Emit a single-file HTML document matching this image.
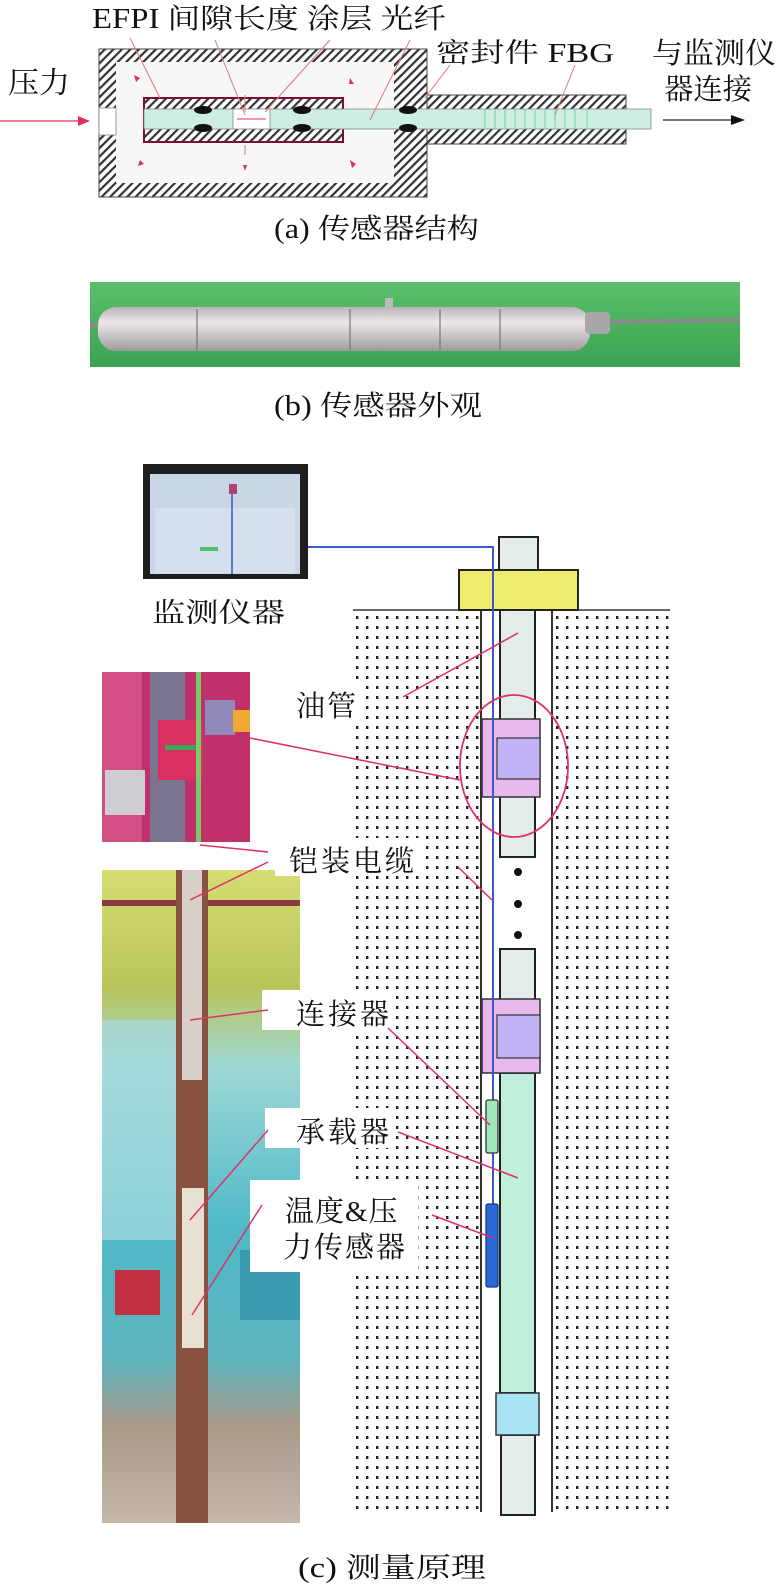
<!DOCTYPE html>
<html><head><meta charset="utf-8"><style>
html,body{margin:0;padding:0;background:#fff;}
svg{display:block;}
text{font-family:"Liberation Serif","Noto Serif CJK SC","Noto Sans CJK SC",serif;fill:#111;}
</style></head><body>
<svg width="777" height="1588" viewBox="0 0 777 1588" xmlns="http://www.w3.org/2000/svg">
<defs>
<pattern id="hatch" width="6" height="6" patternUnits="userSpaceOnUse" patternTransform="rotate(45)">
<rect width="6" height="6" fill="#fff"/><rect width="2.2" height="6" fill="#333"/></pattern>
<pattern id="dots" x="365" y="614" width="10" height="10" patternUnits="userSpaceOnUse">
<rect width="10" height="10" fill="#fff"/><rect x="1" y="2" width="2.4" height="3" fill="#222"/></pattern>
<linearGradient id="cyl" x1="0" y1="0" x2="0" y2="1">
<stop offset="0" stop-color="#b9b4b8"/><stop offset="0.35" stop-color="#ece8ea"/><stop offset="1" stop-color="#9f9a9e"/></linearGradient>
<linearGradient id="grn" x1="0" y1="0" x2="0" y2="1">
<stop offset="0" stop-color="#5cbf6b"/><stop offset="1" stop-color="#3aa352"/></linearGradient>
<linearGradient id="big" x1="0" y1="0" x2="0" y2="1">
<stop offset="0" stop-color="#d6dd72"/><stop offset="0.18" stop-color="#b9c55a"/><stop offset="0.3" stop-color="#9fd8d6"/><stop offset="0.55" stop-color="#4fb9c8"/><stop offset="0.75" stop-color="#5fb4bd"/><stop offset="0.85" stop-color="#a99a8a"/><stop offset="1" stop-color="#c5b7aa"/></linearGradient>
</defs>

<!-- (a) sensor structure -->
<rect x="99" y="49" width="328" height="148" fill="url(#hatch)" stroke="#444" stroke-width="1"/>
<rect x="116" y="62" width="278" height="121" fill="#f7f7f7"/>
<rect x="99" y="108" width="17" height="27" fill="#fff" stroke="#888" stroke-width="0.8"/>
<rect x="427" y="95" width="199" height="49" fill="url(#hatch)" stroke="#444" stroke-width="1"/>
<rect x="144" y="98" width="199" height="44" fill="url(#hatch)" stroke="#7a1030" stroke-width="2"/>
<rect x="144" y="109" width="507" height="20" fill="#cdeee0" stroke="#888" stroke-width="0.8"/>
<rect x="233" y="109" width="37" height="20" fill="#fff" stroke="#888" stroke-width="0.8"/>
<g fill="#111">
<ellipse cx="203" cy="110" rx="9" ry="4"/><ellipse cx="203" cy="128" rx="9" ry="4"/>
<ellipse cx="302" cy="110" rx="9" ry="4"/><ellipse cx="302" cy="128" rx="9" ry="4"/>
<ellipse cx="408" cy="110" rx="9" ry="4"/><ellipse cx="408" cy="128" rx="9" ry="4"/>
</g>
<g stroke="#7fd8a8" stroke-width="1.2">
<line x1="485" y1="110" x2="485" y2="128"/><line x1="495" y1="110" x2="495" y2="128"/><line x1="505" y1="110" x2="505" y2="128"/><line x1="515" y1="110" x2="515" y2="128"/><line x1="525" y1="110" x2="525" y2="128"/><line x1="535" y1="110" x2="535" y2="128"/><line x1="545" y1="110" x2="545" y2="128"/><line x1="555" y1="110" x2="555" y2="128"/><line x1="565" y1="110" x2="565" y2="128"/><line x1="575" y1="110" x2="575" y2="128"/><line x1="587" y1="110" x2="587" y2="128"/>
</g>
<line x1="0" y1="121" x2="84" y2="121" stroke="#e0305a" stroke-width="1.3"/>
<polygon points="90,121 78,116 78,126" fill="#e0305a"/>
<line x1="663" y1="120" x2="733" y2="120" stroke="#222" stroke-width="1.3"/>
<polygon points="745,120 731,115 731,125" fill="#111"/>
<g stroke="#d77" stroke-width="1">
<line x1="130" y1="38" x2="160" y2="98"/><line x1="215" y1="40" x2="245" y2="115"/>
<line x1="330" y1="40" x2="265" y2="112"/><line x1="410" y1="40" x2="370" y2="120"/>
<line x1="450" y1="65" x2="425" y2="98"/><line x1="575" y1="65" x2="555" y2="115"/>
<line x1="245" y1="112" x2="245" y2="95"/><line x1="245" y1="155" x2="245" y2="145"/>
</g>
<g fill="#e0305a">
<polygon points="134,75 140,78 136,82"/><polygon points="350,78 354,84 349,84"/>
<polygon points="140,160 144,164 138,166"/><polygon points="350,160 356,164 352,168"/>
<polygon points="243,165 247,165 245,171"/><line x1="237" y1="119" x2="266" y2="119" stroke="#e0305a"/>
</g>
<text x="92" y="28" font-size="28" textLength="354" lengthAdjust="spacingAndGlyphs">EFPI 间隙长度 涂层 光纤</text>
<text x="8" y="93" font-size="30" textLength="62" lengthAdjust="spacingAndGlyphs">压力</text>
<text x="436" y="62" font-size="27" textLength="178" lengthAdjust="spacingAndGlyphs">密封件 FBG</text>
<text x="652" y="63" font-size="29" textLength="124" lengthAdjust="spacingAndGlyphs">与监测仪</text>
<text x="664" y="99" font-size="29" textLength="88" lengthAdjust="spacingAndGlyphs">器连接</text>
<text x="274" y="238" font-size="28" textLength="205" lengthAdjust="spacingAndGlyphs">(a) 传感器结构</text>

<!-- (b) photo -->
<rect x="90" y="282" width="650" height="85" fill="url(#grn)"/>
<line x1="590" y1="322" x2="740" y2="320" stroke="#8a8a88" stroke-width="4"/>
<line x1="90" y1="325" x2="100" y2="325" stroke="#8a8a88" stroke-width="5"/>
<rect x="98" y="307" width="492" height="44" rx="18" fill="url(#cyl)"/>
<rect x="585" y="312" width="25" height="22" rx="4" fill="#a8a6a8"/>
<rect x="385" y="298" width="8" height="10" fill="#bbb"/>
<g stroke="#777" stroke-width="1.2">
<line x1="197" y1="309" x2="197" y2="350"/><line x1="350" y1="309" x2="350" y2="350"/><line x1="440" y1="309" x2="440" y2="350"/><line x1="500" y1="309" x2="500" y2="350"/></g>
<text x="274" y="415" font-size="28" textLength="208" lengthAdjust="spacingAndGlyphs">(b) 传感器外观</text>

<!-- (c) -->
<rect x="143" y="464" width="165" height="115" fill="#1e1e1e"/>
<rect x="150" y="474" width="150" height="100" fill="#c8d6e6"/>
<rect x="155" y="508" width="140" height="65" fill="#d4e0ee"/>
<line x1="232" y1="485" x2="232" y2="574" stroke="#3a5ab8" stroke-width="1.5"/>
<rect x="229" y="484" width="8" height="10" fill="#b04070"/>
<rect x="200" y="547" width="18" height="4" fill="#4ac070"/>
<text x="152" y="622" font-size="27" textLength="133" lengthAdjust="spacingAndGlyphs">监测仪器</text>

<rect x="354" y="612" width="127" height="900" fill="url(#dots)"/>
<rect x="551" y="612" width="119" height="900" fill="url(#dots)"/>
<line x1="353" y1="610" x2="670" y2="610" stroke="#333" stroke-width="1.5"/>
<line x1="481" y1="610" x2="481" y2="1512" stroke="#333" stroke-width="2"/>
<line x1="552" y1="610" x2="552" y2="1512" stroke="#333" stroke-width="2"/>
<rect x="482" y="612" width="69" height="900" fill="#fff"/>

<rect x="499" y="537" width="39" height="33" fill="#e4ecec" stroke="#222" stroke-width="2"/>
<rect x="459" y="570" width="119" height="40" fill="#f0ec70" stroke="#222" stroke-width="2"/>
<rect x="500" y="610" width="35" height="247" fill="#e4ecec" stroke="#222" stroke-width="2"/>
<circle cx="518" cy="872" r="4" fill="#111"/><circle cx="518" cy="904" r="4" fill="#111"/><circle cx="518" cy="935" r="4" fill="#111"/>
<rect x="500" y="949" width="35" height="60" fill="#e4ecec" stroke="#222" stroke-width="2"/>
<rect x="500" y="1073" width="35" height="320" fill="#c0f0dc" stroke="#222" stroke-width="2"/>
<rect x="501" y="1435" width="34" height="80" fill="#e4ecec" stroke="#222" stroke-width="2"/>
<rect x="496" y="1393" width="43" height="42" fill="#a8e4f4" stroke="#333" stroke-width="1.5"/>

<rect x="482" y="719" width="58" height="78" fill="#e8b8ee" stroke="#333" stroke-width="1.5"/>
<rect x="497" y="738" width="43" height="41" fill="#c0b2f4" stroke="#333" stroke-width="1.2"/>
<rect x="482" y="999" width="58" height="74" fill="#e8b8ee" stroke="#333" stroke-width="1.5"/>
<rect x="497" y="1015" width="43" height="43" fill="#c0b2f4" stroke="#333" stroke-width="1.2"/>

<polyline points="308,547 493,547 493,1100" fill="none" stroke="#3a5ac8" stroke-width="2"/>
<line x1="493" y1="1153" x2="493" y2="1204" stroke="#3a5ac8" stroke-width="2"/>
<rect x="486" y="1100" width="12" height="53" rx="2" fill="#9ee8b8" stroke="#333" stroke-width="1.3"/>
<rect x="486" y="1204" width="12" height="83" rx="2" fill="#2a6ad8" stroke="#1a3a80" stroke-width="1.3"/>

<ellipse cx="514" cy="766" rx="54" ry="71" fill="none" stroke="#e0306a" stroke-width="1.8"/>

<!-- photos -->
<rect x="102" y="672" width="148" height="170" fill="#c0306a"/>
<rect x="102" y="672" width="40" height="170" fill="#d45084"/>
<rect x="150" y="672" width="35" height="170" fill="#7a7490"/>
<rect x="158" y="720" width="45" height="60" fill="#d83060"/>
<rect x="165" y="745" width="35" height="5" fill="#3aa858"/>
<rect x="196" y="672" width="5" height="170" fill="#7acc68"/>
<rect x="105" y="770" width="40" height="45" fill="#d0ccd4"/>
<rect x="205" y="700" width="30" height="35" fill="#9088b8"/>
<rect x="233" y="710" width="17" height="22" fill="#f0a830"/>

<rect x="102" y="870" width="198" height="653" fill="url(#big)"/>
<rect x="102" y="1020" width="95" height="220" fill="#a8dce0" opacity="0.7"/>
<rect x="102" y="900" width="198" height="6" fill="#8a3a40"/>
<rect x="176" y="870" width="32" height="653" fill="#8a5040"/>
<rect x="182" y="870" width="20" height="210" fill="#d8d0c8"/>
<rect x="182" y="1188" width="22" height="160" fill="#e8e0d0"/>
<rect x="240" y="1250" width="60" height="70" fill="#3a9ab0"/>
<rect x="115" y="1270" width="45" height="45" fill="#c03040"/>

<!-- label boxes -->
<rect x="285" y="680" width="78" height="42" fill="#fff"/>
<rect x="275" y="838" width="150" height="38" fill="#fff"/>
<rect x="262" y="990" width="130" height="40" fill="#fff"/>
<rect x="265" y="1108" width="130" height="40" fill="#fff"/>
<rect x="250" y="1180" width="168" height="92" fill="#fff"/>

<g stroke="#e0306a" stroke-width="1.5">
<line x1="403" y1="697" x2="518" y2="633"/>
<line x1="250" y1="738" x2="460" y2="780"/>
<line x1="458" y1="867" x2="492" y2="900"/>
<line x1="268" y1="852" x2="200" y2="845"/>
<line x1="268" y1="862" x2="190" y2="900"/>
<line x1="268" y1="1010" x2="190" y2="1020"/>
<line x1="388" y1="1028" x2="490" y2="1125"/>
<line x1="268" y1="1130" x2="190" y2="1220"/>
<line x1="398" y1="1132" x2="518" y2="1178"/>
<line x1="262" y1="1205" x2="192" y2="1315"/>
<line x1="432" y1="1215" x2="493" y2="1238"/>
</g>

<text x="296" y="716" font-size="29" letter-spacing="2">油管</text>
<text x="289" y="871" font-size="29" letter-spacing="3">铠装电缆</text>
<text x="296" y="1024" font-size="29" letter-spacing="3">连接器</text>
<text x="296" y="1142" font-size="29" letter-spacing="3">承载器</text>
<text x="285" y="1221" font-size="29" letter-spacing="1">温度&amp;压</text>
<text x="283" y="1257" font-size="29" letter-spacing="2">力传感器</text>
<text x="298" y="1577" font-size="28" textLength="188" lengthAdjust="spacingAndGlyphs">(c) 测量原理</text>
</svg>
</body></html>
